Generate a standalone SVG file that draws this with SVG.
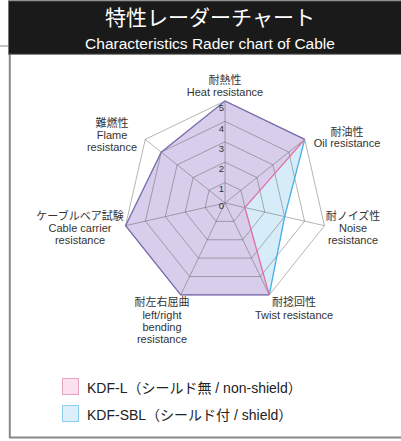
<svg xmlns="http://www.w3.org/2000/svg" width="401" height="441" viewBox="0 0 401 441">
<style>
.t{font-family:"Liberation Sans","Noto Sans CJK JP",sans-serif;fill:#333;font-size:11px;text-anchor:middle}
.n{font-family:"Liberation Sans",sans-serif;fill:#333;font-size:9.5px;text-anchor:middle}
.lg{font-family:"Liberation Sans","Noto Sans CJK JP",sans-serif;fill:#222;font-size:14px}
.grid{fill:none;stroke:#555;stroke-opacity:0.55;stroke-width:0.8}
</style>
<rect width="401" height="441" fill="#fff"/>
<g id="frame">
<line x1="0" y1="46" x2="9" y2="46" stroke="#999" stroke-width="1.2"/>
<line x1="9.8" y1="54" x2="9.8" y2="438" stroke="#888" stroke-width="2"/>
<line x1="9" y1="437.5" x2="401" y2="437.5" stroke="#888" stroke-width="2"/>
<rect x="8.5" y="0.8" width="393" height="53.5" fill="#1a1a1a" stroke="#777" stroke-width="1"/>
</g>
<g id="title">
<text x="210" y="25" font-family="'Noto Sans CJK JP','Liberation Sans',sans-serif" font-size="21" fill="#fff" text-anchor="middle">特性レーダーチャート</text>
<text x="210" y="49" font-family="'Liberation Sans',sans-serif" font-size="15.5" fill="#fff" text-anchor="middle">Characteristics Rader chart of Cable</text>
</g>
<g id="series-fill">
<polygon points="225,101 304.75,139.4 284.67,216.62 269.26,294.9 180.74,294.9 125.56,225.7 161.2,152.12" fill="#d6ecf9"/>
<polygon points="225,101 304.75,139.4 244.89,207.54 269.26,294.9 180.74,294.9 125.56,225.7 161.2,152.12" fill="#d8cdea"/>
</g>
<g id="grid">
<polygon class="grid" points="225,101 304.75,139.4 324.44,225.7 269.26,294.9 180.74,294.9 125.56,225.7 145.25,139.4"/>
<polygon class="grid" points="225,121.4 288.8,152.12 304.55,221.16 260.4,276.52 189.6,276.52 145.45,221.16 161.2,152.12"/>
<polygon class="grid" points="225,141.8 272.85,164.84 284.67,216.62 251.55,258.14 198.45,258.14 165.33,216.62 177.15,164.84"/>
<polygon class="grid" points="225,162.2 256.9,177.56 264.78,212.08 242.7,239.76 207.3,239.76 185.22,212.08 193.1,177.56"/>
<polygon class="grid" points="225,182.6 240.95,190.28 244.89,207.54 233.85,221.38 216.15,221.38 205.11,207.54 209.05,190.28"/>
<path class="grid" d="M225,203L225,101M225,203L304.75,139.4M225,203L324.44,225.7M225,203L269.26,294.9M225,203L180.74,294.9M225,203L125.56,225.7M225,203L145.25,139.4"/>
</g>
<g id="connectors">
<polyline points="269.26,294.9 180.74,294.9 125.56,225.7 161.2,152.12 225,101 304.75,139.4" fill="none" stroke="#7a6db0" stroke-width="1.3"/>
<polyline points="304.75,139.4 284.67,216.62 269.26,294.9" fill="none" stroke="#45ade6" stroke-width="1.3"/>
<polyline points="304.75,139.4 244.89,207.54 269.26,294.9" fill="none" stroke="#e0709f" stroke-width="1.3"/>
</g>
<g id="scale">
<text class="n" x="221.5" y="111">5</text>
<text class="n" x="221.5" y="131.5">4</text>
<text class="n" x="221.5" y="151.5">3</text>
<text class="n" x="221.5" y="171.5">2</text>
<text class="n" x="221.5" y="191.5">1</text>
<text class="n" x="221.5" y="209">0</text>
</g>
<g id="node-heat"><text class="t" x="225" y="84">耐熱性</text><text class="t" x="225" y="96">Heat resistance</text></g>
<g id="node-oil"><text class="t" x="347" y="136">耐油性</text><text class="t" x="347" y="147">Oil resistance</text></g>
<g id="node-noise"><text class="t" x="353" y="220">耐ノイズ性</text><text class="t" x="353" y="232">Noise</text><text class="t" x="353" y="244">resistance</text></g>
<g id="node-twist"><text class="t" x="294" y="306">耐捻回性</text><text class="t" x="294" y="319">Twist resistance</text></g>
<g id="node-bending"><text class="t" x="162" y="306">耐左右屈曲</text><text class="t" x="162" y="318.5">left/right</text><text class="t" x="162" y="330.5">bending</text><text class="t" x="162" y="342.5">resistance</text></g>
<g id="node-cable"><text class="t" x="80" y="219.5">ケーブルベア試験</text><text class="t" x="80" y="232">Cable carrier</text><text class="t" x="80" y="244">resistance</text></g>
<g id="node-flame"><text class="t" x="112" y="127">難燃性</text><text class="t" x="112" y="139">Flame</text><text class="t" x="112" y="151">resistance</text></g>
<g id="legend">
<rect x="62.5" y="378.5" width="16" height="16" fill="#fbe1ee" stroke="#e8a2c2" stroke-width="1"/>
<text class="lg" x="87" y="393">KDF-L（シールド無 / non-shield）</text>
<rect x="62.5" y="405.5" width="16" height="16" fill="#dcf0fb" stroke="#8ccdef" stroke-width="1"/>
<text class="lg" x="87" y="420">KDF-SBL（シールド付 / shield）</text>
</g>
</svg>
